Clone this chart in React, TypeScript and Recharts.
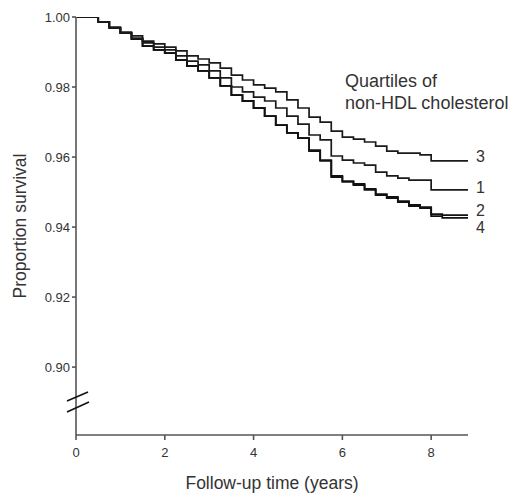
import React from 'react';
import { LineChart, Line, XAxis, YAxis } from 'recharts';

const years = [0, 0.3, 0.5, 0.75, 1, 1.25, 1.5, 1.75, 2, 2.25, 2.5, 2.75, 3, 3.25, 3.5, 3.75, 4, 4.25, 4.5, 4.75, 5, 5.25, 5.5, 5.75, 6, 6.25, 6.5, 6.75, 7, 7.25, 7.5, 7.75, 8, 8.25, 8.5, 8.83];

const quartile1 = [1, 1, 0.9986, 0.9969, 0.9954, 0.994, 0.9926, 0.9914, 0.9906, 0.9889, 0.9874, 0.9863, 0.9846, 0.9826, 0.98, 0.9786, 0.9771, 0.976, 0.974, 0.9717, 0.9694, 0.9663, 0.9649, 0.9603, 0.9591, 0.9583, 0.9577, 0.9557, 0.9546, 0.954, 0.9534, 0.9534, 0.9506, 0.9506, 0.9506, 0.9506];
const quartile2 = [1, 1, 0.9986, 0.9969, 0.9954, 0.9937, 0.9917, 0.9906, 0.9897, 0.9877, 0.986, 0.9846, 0.9826, 0.9803, 0.9777, 0.976, 0.974, 0.9717, 0.9691, 0.9669, 0.9654, 0.962, 0.9591, 0.9546, 0.9531, 0.9523, 0.9509, 0.9494, 0.9486, 0.9474, 0.9463, 0.9457, 0.9437, 0.9434, 0.9434, 0.9434];
const quartile3 = [1, 1, 0.9986, 0.9971, 0.9957, 0.9946, 0.9931, 0.9923, 0.9914, 0.9903, 0.9889, 0.988, 0.9869, 0.9854, 0.9834, 0.982, 0.9806, 0.9797, 0.9786, 0.9763, 0.974, 0.9714, 0.97, 0.9674, 0.9657, 0.9651, 0.9643, 0.9631, 0.9617, 0.9611, 0.9611, 0.9606, 0.9589, 0.9589, 0.9589, 0.9589];
const quartile4 = [1, 1, 0.9986, 0.9969, 0.9954, 0.9937, 0.9917, 0.9906, 0.9897, 0.9877, 0.986, 0.9846, 0.9826, 0.9803, 0.9777, 0.976, 0.974, 0.9717, 0.9691, 0.9669, 0.9654, 0.9617, 0.9589, 0.9543, 0.9529, 0.952, 0.9506, 0.9491, 0.9483, 0.9471, 0.946, 0.9454, 0.9431, 0.9426, 0.9426, 0.9426];

const xTicks = [0, 2, 4, 6, 8];
const yTicks = [0.9, 0.92, 0.94, 0.96, 0.98, 1.0];

const chartData = years.map((t, i) => ({
  t,
  q1: quartile1[i],
  q2: quartile2[i],
  q3: quartile3[i],
  q4: quartile4[i],
}));

const FONT = '"Liberation Sans", Arial, Helvetica, sans-serif';

// number printed at the right end of each curve
const endLabel = (text: string, dy: number) => (props: any) => {
  if (props.index !== years.length - 1) return null;
  return (
    <text
      key={text}
      x={props.x + 8}
      y={props.y + dy}
      dominantBaseline="central"
      fontSize={16}
      fontFamily={FONT}
      fill="#333"
    >
      {text}
    </text>
  );
};

const App = () => {
  return (
    <div style={{ position: 'absolute', left: 0, top: 0, width: 526, height: 496, background: '#fff', fontFamily: FONT }}>
      <LineChart width={526} height={496} data={chartData} margin={{ top: 17, right: 58, left: 20, bottom: 21 }}>
        <XAxis
          dataKey="t"
          type="number"
          domain={[0, 8.83]}
          ticks={xTicks}
          allowDataOverflow
          height={40}
          stroke="#555"
          strokeWidth={1.6}
          tickSize={5}
          tickMargin={8}
          tick={{ fontSize: 13, fill: '#333', fontFamily: FONT }}
          label={(p: any) => (
            <text
              x={p.viewBox.x + p.viewBox.width / 2}
              y={483}
              textAnchor="middle"
              dominantBaseline="central"
              fontSize={17.5}
              fontFamily={FONT}
              fill="#333"
            >
              Follow-up time (years)
            </text>
          )}
        />
        <YAxis
          type="number"
          domain={[0.8806, 1.0]}
          ticks={yTicks}
          allowDataOverflow
          width={56}
          stroke="#555"
          strokeWidth={1.6}
          tickSize={4}
          tickMargin={2}
          tickFormatter={(v: number) => v.toFixed(2)}
          tick={{ fontSize: 13, fill: '#333', fontFamily: FONT }}
          label={() => (
            <text
              x={20}
              y={226}
              transform="rotate(-90 20 226)"
              textAnchor="middle"
              dominantBaseline="central"
              fontSize={17.5}
              fontFamily={FONT}
              fill="#333"
            >
              Proportion survival
            </text>
          )}
        />
        <Line type="stepAfter" dataKey="q4" stroke="#111" strokeWidth={1.8} dot={false} isAnimationActive={false} label={endLabel('4', 10)} />
        <Line type="stepAfter" dataKey="q2" stroke="#111" strokeWidth={1.8} dot={false} isAnimationActive={false} label={endLabel('2', -5)} />
        <Line type="stepAfter" dataKey="q1" stroke="#1a1a1a" strokeWidth={1.7} dot={false} isAnimationActive={false} label={endLabel('1', -2)} />
        <Line type="stepAfter" dataKey="q3" stroke="#1a1a1a" strokeWidth={1.7} dot={false} isAnimationActive={false} label={endLabel('3', -4)} />
      </LineChart>

      {/* axis break marks */}
      <svg width={526} height={496} style={{ position: 'absolute', left: 0, top: 0, pointerEvents: 'none' }}>
        <line x1={67} y1={401} x2={88} y2={392} stroke="#111" strokeWidth={1.6} />
        <line x1={67} y1={412} x2={89} y2={402} stroke="#111" strokeWidth={1.6} />
      </svg>

      <div style={{ position: 'absolute', left: 345, top: 70, fontSize: 18, lineHeight: '22px', color: '#333' }}>
        Quartiles of
        <br />
        non-HDL cholesterol
      </div>
    </div>
  );
};

export default App;
